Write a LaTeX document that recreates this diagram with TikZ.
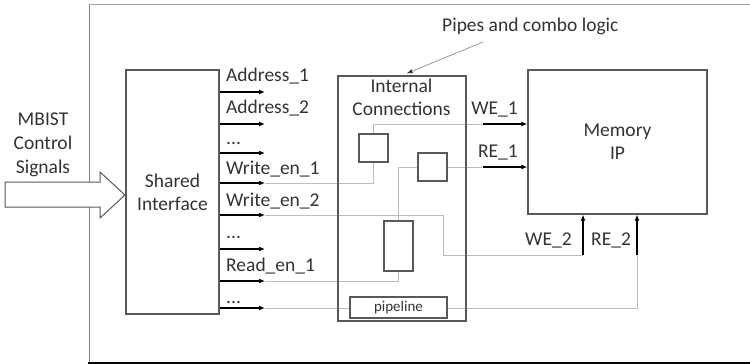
\documentclass[tikz,border=0pt]{standalone}
\usepackage{fontspec}
\setmainfont{Carlito}
\usetikzlibrary{arrows.meta}
\definecolor{inkgray}{HTML}{333333}
\definecolor{boxgray}{HTML}{595959}
\definecolor{wiregray}{HTML}{BDBDBD}
\newcommand{\moresig}{...}
\begin{document}
\begin{tikzpicture}[x=1pt,y=-1pt,
  blk/.style={draw=boxgray, line width=1.3pt, fill=white, inner sep=0pt,
              text=inkgray, align=center, font=\fontsize{19.5}{23}\selectfont},
  wire/.style={draw=wiregray, line width=1pt},
  sig/.style={line width=1.8pt, -{Latex[length=6pt,width=5pt]}},
  lbl/.style={text=inkgray, inner sep=0pt, font=\fontsize{19.5}{23.5}\selectfont}]
\useasboundingbox (0,0) rectangle (750,364);

% outer frame
\draw[draw=gray!70, line width=1pt] (89,4.5) -- (750,4.5);
\draw[draw=gray, line width=1pt] (89,4.5) -- (89,362);
\draw[black, line width=2pt] (88,362.8) -- (750,362.8);

% main blocks
\node[blk, minimum width=93, minimum height=244] (si) at (172.5,192) {Shared\\Interface};
\node[blk, minimum width=179, minimum height=144] (mem) at (617.5,142) {Memory\\IP};

% incoming MBIST arrow
\draw[draw=boxgray, line width=1pt, fill=white]
  (5,182) -- (100,182) -- (100,172) -- (125,195) -- (100,218) -- (100,207) -- (5,207) -- cycle;
\node[lbl, align=center, font=\fontsize{19.5}{24}\selectfont] (mbist) at (43,145) {MBIST\\Control\\Signals};

% signals leaving the shared interface
\foreach \ay/\by/\tx/\nm in {92/81/Address\_1/s1, 124/113/Address\_2/s2, 153/144/\moresig/s3,
    183/174/Write\_en\_1/s4, 215/206/Write\_en\_2/s5, 249/238/\moresig/s6,
    281/271/Read\_en\_1/s7, 308/303/\moresig/s8}{
  \coordinate (\nm) at (265,\ay);
  \draw[sig] (si.east |- \nm) -- (\nm);
  \node[lbl, anchor=base west] (\nm l) at (226,\by) {\tx};
}

% wire end points
\coordinate (we1s) at (483,124);
\coordinate (re1s) at (483,167);
\coordinate (k1) at (443,255);
\coordinate (we2s) at (583,255);
\coordinate (re2s) at (637,255);

% inner elements (positions)
\path (373.5,148) node[blk, minimum width=29, minimum height=28] (b1) {};
\path (432.5,167) node[blk, minimum width=29, minimum height=28] (b2) {};
\path (398.5,246) node[blk, minimum width=29, minimum height=50] (b3) {};
\path (398.5,307.5) node[blk, minimum width=97, minimum height=21,
      font=\fontsize{15}{17}\selectfont] (pl) {pipeline};

% wiring through the internal connections
\draw[wire] (s4) -| (b1.south);
\draw[wire] (b1.north) |- (we1s);
\draw[wire] (b3.north) |- (b2.west);
\draw[wire] (b2.east) -- (re1s);
\draw[wire] (s5) -| (k1) -- (we2s);
\draw[wire] (s7) -| (b3.south);
\draw[wire] (s8) -- (s8 -| pl.west);
\draw[wire] (pl.east |- s8) -| (re2s);

% redraw small blocks over the wires
\node[blk, minimum width=29, minimum height=28] at (b1) {};
\node[blk, minimum width=29, minimum height=28] at (b2) {};
\node[blk, minimum width=29, minimum height=50] at (b3) {};
\node[blk, minimum width=97, minimum height=21, font=\fontsize{15}{17}\selectfont] at (pl) {pipeline};

% internal connections block
\node[draw=boxgray, line width=1.3pt, inner sep=0pt, minimum width=128, minimum height=245] (ic) at (402,198.5) {};
\node[lbl, align=center, font=\fontsize{19.5}{23}\selectfont] (ict) at (401.5,97.7) {Internal\\Connections};

% memory ports
\draw[sig] (we1s) -- (mem.west |- we1s);
\draw[sig] (re1s) -- (mem.west |- re1s);
\draw[sig] (we2s) -- (mem.south -| we2s);
\draw[sig] (re2s) -- (mem.south -| re2s);
\node[lbl, anchor=base east] (we1) at (518,114) {WE\_1};
\node[lbl, anchor=base east] (re1) at (518,157) {RE\_1};
\node[lbl, anchor=base west] (we2) at (525,245) {WE\_2};
\node[lbl, anchor=base west] (re2) at (591,245) {RE\_2};

% annotation
\node[lbl, anchor=base west] (pipes) at (442,31) {Pipes and combo logic};
\coordinate (pc) at (483,42);
\draw[draw=gray!80, line width=0.8pt, -{Latex[length=6pt,width=4.5pt,color=inkgray]},
      shorten >=5pt] (pc) -- (ic.north);
\end{tikzpicture}
\end{document}
